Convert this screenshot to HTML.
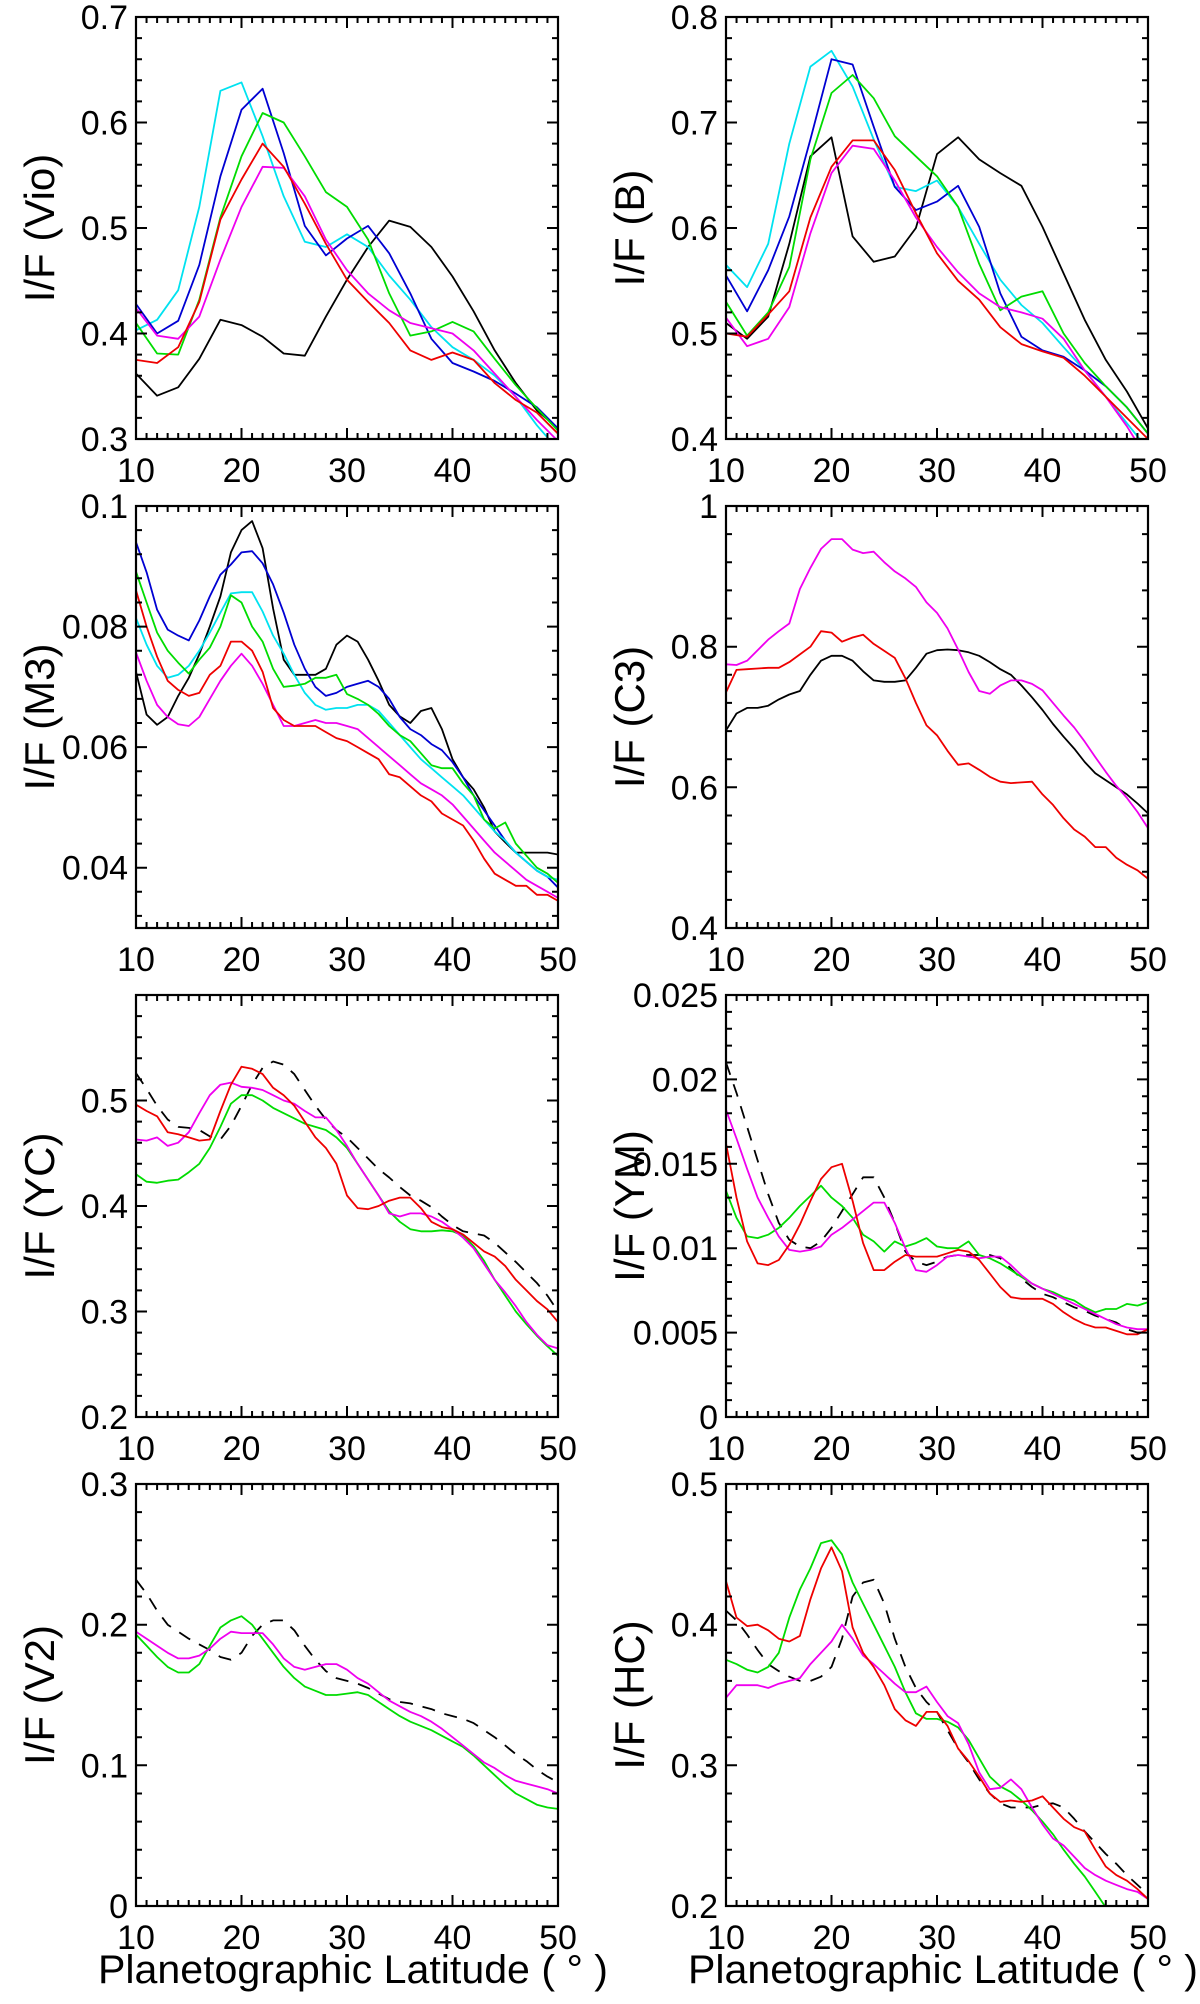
<!DOCTYPE html>
<html><head><meta charset="utf-8"><style>
html,body{margin:0;padding:0;background:#fff;}
svg{display:block;font-family:"Liberation Sans",Arial,sans-serif;}
</style></head>
<body>
<svg id="fig" width="1200" height="2004" viewBox="0 0 1200 2004" xmlns="http://www.w3.org/2000/svg"></svg>
<script>
// ---------- data ----------
const lat2 = [10,12,14,16,18,20,22,24,26,28,30,32,34,36,38,40,42,44,46,48,50];
const lat1 = [10,11,12,13,14,15,16,17,18,19,20,21,22,23,24,25,26,27,28,29,30,31,32,33,34,35,36,37,38,39,40,41,42,43,44,45,46,47,48,49,50];

// Vio
const vioTicks = ["0.3","0.4","0.5","0.6","0.7"];
const vioBlack = [0.362,0.341,0.349,0.376,0.413,0.408,0.397,0.381,0.379,0.416,0.451,0.482,0.507,0.501,0.482,0.454,0.421,0.384,0.353,0.327,0.310];
const vioCyan = [0.403,0.413,0.441,0.52,0.63,0.638,0.587,0.53,0.487,0.482,0.494,0.482,0.455,0.432,0.406,0.387,0.375,0.36,0.34,0.313,0.29];
const vioBlue = [0.428,0.400,0.412,0.465,0.549,0.612,0.632,0.571,0.502,0.474,0.49,0.502,0.476,0.438,0.395,0.372,0.364,0.355,0.343,0.33,0.31];
const vioGreen = [0.41,0.381,0.38,0.432,0.51,0.568,0.609,0.6,0.568,0.534,0.52,0.489,0.438,0.398,0.402,0.411,0.402,0.376,0.351,0.329,0.308];
const vioRed = [0.375,0.372,0.387,0.43,0.508,0.546,0.58,0.558,0.523,0.485,0.451,0.43,0.41,0.384,0.375,0.382,0.375,0.353,0.337,0.325,0.305];
const vioMagenta = [0.424,0.398,0.395,0.416,0.47,0.52,0.558,0.557,0.53,0.489,0.46,0.438,0.422,0.41,0.405,0.4,0.384,0.362,0.34,0.318,0.298];

// B
const bTicks = ["0.4","0.5","0.6","0.7","0.8"];
const bCyan = [0.565,0.544,0.585,0.68,0.753,0.768,0.734,0.684,0.639,0.635,0.645,0.62,0.585,0.551,0.527,0.51,0.487,0.465,0.44,0.415,0.39];
const bBlue = [0.555,0.521,0.56,0.611,0.684,0.76,0.755,0.696,0.639,0.617,0.625,0.64,0.601,0.538,0.497,0.484,0.478,0.465,0.45,0.43,0.405];
const bGreen = [0.53,0.498,0.52,0.563,0.665,0.728,0.745,0.723,0.687,0.668,0.649,0.62,0.566,0.522,0.535,0.54,0.5,0.472,0.45,0.43,0.405];
const bBlack = [0.51,0.495,0.516,0.585,0.668,0.686,0.592,0.568,0.573,0.6,0.67,0.686,0.665,0.652,0.64,0.601,0.557,0.513,0.475,0.445,0.41];
const bRed = [0.5,0.497,0.518,0.54,0.61,0.658,0.683,0.683,0.655,0.614,0.576,0.55,0.532,0.506,0.49,0.483,0.477,0.46,0.44,0.42,0.4];
const bMagenta = [0.515,0.488,0.495,0.525,0.595,0.652,0.678,0.675,0.645,0.61,0.582,0.558,0.538,0.525,0.52,0.514,0.495,0.465,0.44,0.412,0.38];

// M3
const m3Ticks = ["0.04","0.06","0.08","0.1"];
const m3Black = [0.0725,0.0654,0.0637,0.065,0.0685,0.0715,0.0754,0.08,0.085,0.0923,0.096,0.0975,0.093,0.083,0.0745,0.072,0.072,0.072,0.073,0.077,0.0785,0.0775,0.0745,0.071,0.067,0.0651,0.064,0.066,0.0665,0.063,0.058,0.055,0.053,0.05,0.046,0.0442,0.0425,0.0425,0.0425,0.0425,0.0422];
const m3Blue = [0.094,0.089,0.0828,0.0795,0.0785,0.0777,0.081,0.085,0.0886,0.0903,0.0923,0.0925,0.0905,0.087,0.0823,0.077,0.073,0.07,0.0685,0.069,0.07,0.0705,0.071,0.07,0.068,0.065,0.063,0.062,0.0605,0.0595,0.0575,0.055,0.052,0.0495,0.047,0.0445,0.0425,0.041,0.0395,0.0385,0.0367];
const m3Cyan = [0.0814,0.077,0.0735,0.0715,0.072,0.0735,0.076,0.079,0.0823,0.0855,0.0857,0.0857,0.0825,0.0785,0.0755,0.072,0.069,0.067,0.0662,0.0665,0.0665,0.067,0.067,0.066,0.064,0.062,0.06,0.058,0.0565,0.055,0.0535,0.052,0.05,0.048,0.046,0.0445,0.0425,0.041,0.0395,0.0385,0.038];
const m3Green = [0.0891,0.084,0.079,0.076,0.074,0.0722,0.0745,0.0765,0.08,0.0852,0.084,0.08,0.0775,0.073,0.07,0.0702,0.0705,0.0715,0.0715,0.072,0.0688,0.068,0.067,0.0655,0.0635,0.062,0.061,0.059,0.057,0.0565,0.0565,0.054,0.052,0.048,0.0465,0.0475,0.044,0.042,0.04,0.039,0.0375];
const m3Red = [0.086,0.08,0.075,0.071,0.0695,0.0685,0.069,0.072,0.0735,0.0775,0.0775,0.076,0.0725,0.0665,0.0645,0.0635,0.0635,0.0635,0.0625,0.0615,0.061,0.06,0.059,0.058,0.0555,0.055,0.0535,0.052,0.051,0.049,0.048,0.047,0.0445,0.0415,0.039,0.038,0.037,0.037,0.0355,0.0355,0.0345];
const m3Magenta = [0.0757,0.071,0.067,0.065,0.0638,0.0635,0.065,0.068,0.071,0.0735,0.0755,0.0735,0.0705,0.067,0.0635,0.0635,0.064,0.0645,0.064,0.064,0.0635,0.063,0.0615,0.06,0.0585,0.057,0.0555,0.054,0.053,0.052,0.0505,0.0485,0.0465,0.0445,0.0425,0.041,0.0395,0.038,0.037,0.036,0.035];

// C3
const c3Ticks = ["0.4","0.6","0.8","1"];
const c3Magenta = [0.775,0.774,0.78,0.795,0.81,0.822,0.833,0.882,0.912,0.939,0.953,0.953,0.938,0.933,0.935,0.92,0.907,0.897,0.885,0.863,0.848,0.826,0.796,0.764,0.737,0.733,0.745,0.752,0.752,0.747,0.738,0.72,0.702,0.685,0.665,0.643,0.622,0.602,0.585,0.565,0.542];
const c3Red = [0.735,0.767,0.768,0.769,0.77,0.77,0.778,0.789,0.8,0.822,0.82,0.807,0.813,0.817,0.804,0.794,0.784,0.755,0.72,0.688,0.674,0.652,0.632,0.634,0.625,0.615,0.608,0.606,0.607,0.608,0.59,0.575,0.556,0.54,0.53,0.515,0.515,0.5,0.49,0.482,0.47];
const c3Black = [0.681,0.705,0.713,0.713,0.716,0.725,0.732,0.737,0.76,0.78,0.787,0.787,0.78,0.765,0.752,0.75,0.75,0.752,0.77,0.79,0.795,0.796,0.795,0.792,0.787,0.778,0.768,0.76,0.745,0.728,0.71,0.69,0.672,0.655,0.636,0.62,0.61,0.6,0.59,0.577,0.563];

// YC
const ycTicks = ["0.2","0.3","0.4","0.5"];
const ycDash = [0.526,0.511,0.495,0.482,0.475,0.474,0.472,0.466,0.463,0.476,0.495,0.515,0.531,0.537,0.534,0.525,0.51,0.495,0.482,0.472,0.465,0.455,0.445,0.435,0.427,0.418,0.41,0.405,0.399,0.39,0.382,0.376,0.374,0.372,0.365,0.356,0.347,0.337,0.327,0.315,0.3];
const ycRed = [0.496,0.49,0.485,0.47,0.468,0.465,0.462,0.463,0.49,0.515,0.532,0.53,0.525,0.512,0.505,0.495,0.48,0.465,0.455,0.44,0.41,0.398,0.397,0.4,0.405,0.408,0.408,0.398,0.385,0.38,0.378,0.373,0.365,0.357,0.352,0.343,0.33,0.32,0.31,0.302,0.29];
const ycMagenta = [0.463,0.462,0.465,0.457,0.46,0.47,0.488,0.505,0.515,0.517,0.513,0.512,0.51,0.505,0.5,0.497,0.49,0.484,0.484,0.472,0.457,0.44,0.425,0.41,0.393,0.39,0.393,0.393,0.39,0.385,0.378,0.37,0.36,0.345,0.33,0.318,0.305,0.29,0.278,0.268,0.265];
const ycGreen = [0.43,0.423,0.422,0.424,0.425,0.432,0.44,0.455,0.475,0.497,0.505,0.505,0.5,0.493,0.488,0.483,0.478,0.475,0.472,0.465,0.455,0.44,0.425,0.41,0.395,0.385,0.378,0.376,0.376,0.377,0.376,0.372,0.362,0.348,0.33,0.315,0.3,0.288,0.277,0.267,0.258];

// YM
const ymTicks = ["0","0.005","0.01","0.015","0.02","0.025"];
const ymDash = [0.021,0.0192,0.0172,0.0152,0.0132,0.0115,0.0105,0.0101,0.01,0.0104,0.0112,0.0122,0.0132,0.0142,0.0142,0.013,0.0115,0.0098,0.0092,0.009,0.0092,0.0095,0.0096,0.0096,0.0096,0.0096,0.0094,0.0088,0.0082,0.0077,0.0073,0.0071,0.0068,0.0065,0.0063,0.006,0.0058,0.0056,0.0052,0.005,0.005];
const ymRed = [0.0162,0.013,0.0104,0.0091,0.009,0.0093,0.0102,0.0114,0.0128,0.0141,0.0148,0.015,0.0128,0.0103,0.0087,0.0087,0.0092,0.0096,0.0095,0.0095,0.0095,0.0097,0.0099,0.0098,0.0093,0.0085,0.0077,0.0071,0.007,0.007,0.007,0.0067,0.0062,0.0058,0.0055,0.0053,0.0053,0.0051,0.0049,0.0049,0.0052];
const ymGreen = [0.0134,0.0118,0.0107,0.0106,0.0108,0.0112,0.0118,0.0125,0.0131,0.0137,0.013,0.0125,0.0118,0.0108,0.0104,0.0098,0.0104,0.0101,0.0103,0.0106,0.0101,0.01,0.01,0.0104,0.0096,0.0094,0.0091,0.0087,0.0083,0.0079,0.0076,0.0074,0.0071,0.0069,0.0065,0.0062,0.0064,0.0064,0.0067,0.0066,0.0068];
const ymMagenta = [0.0182,0.0165,0.0147,0.013,0.0118,0.0107,0.0099,0.0098,0.0099,0.0101,0.0108,0.0112,0.0117,0.0122,0.0127,0.0127,0.0115,0.01,0.0087,0.0086,0.009,0.0095,0.0096,0.0095,0.0094,0.0095,0.0095,0.009,0.0084,0.0079,0.0076,0.0073,0.007,0.0067,0.0064,0.0061,0.0058,0.0055,0.0053,0.0052,0.0052];

// V2
const v2Ticks = ["0","0.1","0.2","0.3"];
const v2Dash = [0.232,0.222,0.21,0.2,0.195,0.19,0.186,0.182,0.177,0.175,0.18,0.192,0.2,0.203,0.203,0.196,0.185,0.175,0.167,0.162,0.16,0.158,0.155,0.151,0.147,0.145,0.144,0.142,0.14,0.137,0.135,0.133,0.13,0.125,0.12,0.114,0.108,0.103,0.097,0.092,0.088];
const v2Magenta = [0.195,0.19,0.185,0.18,0.176,0.176,0.178,0.183,0.19,0.195,0.194,0.194,0.194,0.186,0.176,0.17,0.168,0.17,0.172,0.172,0.168,0.162,0.158,0.152,0.146,0.142,0.138,0.135,0.131,0.126,0.12,0.114,0.108,0.102,0.098,0.093,0.089,0.087,0.085,0.083,0.08];
const v2Green = [0.193,0.185,0.177,0.17,0.166,0.166,0.172,0.185,0.198,0.203,0.206,0.2,0.19,0.18,0.17,0.162,0.156,0.153,0.15,0.15,0.151,0.152,0.15,0.145,0.14,0.135,0.131,0.128,0.125,0.121,0.117,0.113,0.107,0.1,0.093,0.086,0.08,0.076,0.072,0.07,0.069];

// HC
const hcTicks = ["0.2","0.3","0.4","0.5"];
const hcRed = [0.431,0.405,0.399,0.4,0.396,0.39,0.388,0.392,0.418,0.44,0.455,0.438,0.398,0.38,0.37,0.357,0.34,0.332,0.328,0.338,0.338,0.328,0.312,0.303,0.292,0.28,0.274,0.275,0.274,0.275,0.278,0.27,0.262,0.256,0.253,0.24,0.228,0.222,0.218,0.212,0.205];
const hcGreen = [0.375,0.372,0.368,0.366,0.37,0.38,0.405,0.425,0.44,0.458,0.46,0.45,0.43,0.415,0.4,0.385,0.37,0.352,0.337,0.333,0.333,0.331,0.327,0.318,0.305,0.292,0.285,0.281,0.275,0.268,0.26,0.251,0.24,0.23,0.221,0.21,0.199,0.188,0.177,0.167,0.157];
const hcMagenta = [0.348,0.357,0.357,0.357,0.355,0.358,0.36,0.362,0.372,0.38,0.388,0.4,0.39,0.378,0.372,0.365,0.358,0.352,0.352,0.356,0.345,0.335,0.33,0.315,0.295,0.283,0.284,0.29,0.283,0.27,0.258,0.248,0.243,0.235,0.227,0.222,0.218,0.215,0.212,0.21,0.205];
const hcDash = [0.41,0.403,0.393,0.382,0.372,0.367,0.363,0.36,0.36,0.363,0.37,0.39,0.42,0.43,0.432,0.415,0.39,0.37,0.355,0.345,0.338,0.325,0.312,0.302,0.29,0.28,0.273,0.27,0.27,0.27,0.272,0.273,0.27,0.262,0.253,0.245,0.237,0.23,0.222,0.215,0.208];

const xTickLabels = ["10","20","30","40","50"];

// ---------- rendering ----------
const NS = "http://www.w3.org/2000/svg";
const svg = document.getElementById("fig");
const COL = {black:"#000000",cyan:"#00e2f0",blue:"#0000d2",green:"#00dc00",red:"#ee0000",magenta:"#ef00ef"};
const BOX_W = 422, BOX_H = 422;
const LEFT_X = 136, RIGHT_X = 726;
const ROW_Y = [17, 506, 995, 1484];

function mk(tag, attrs, parent) {
  const e = document.createElementNS(NS, tag);
  for (const k in attrs) e.setAttribute(k, attrs[k]);
  (parent || svg).appendChild(e);
  return e;
}

const panels = [
  {id:"vio", label:"I/F (Vio)", x:LEFT_X, y:ROW_Y[0], ymin:0.3, ymax:0.7, minor:0.02, ticks:vioTicks, lat:lat2,
   series:[["black",vioBlack],["cyan",vioCyan],["blue",vioBlue],["green",vioGreen],["magenta",vioMagenta],["red",vioRed]]},
  {id:"b", label:"I/F (B)", x:RIGHT_X, y:ROW_Y[0], ymin:0.4, ymax:0.8, minor:0.02, ticks:bTicks, lat:lat2,
   series:[["black",bBlack],["cyan",bCyan],["blue",bBlue],["green",bGreen],["magenta",bMagenta],["red",bRed]]},
  {id:"m3", label:"I/F (M3)", x:LEFT_X, y:ROW_Y[1], ymin:0.03, ymax:0.1, minor:0.004, ticks:m3Ticks, lat:lat1,
   series:[["black",m3Black],["blue",m3Blue],["cyan",m3Cyan],["green",m3Green],["magenta",m3Magenta],["red",m3Red]]},
  {id:"c3", label:"I/F (C3)", x:RIGHT_X, y:ROW_Y[1], ymin:0.4, ymax:1.0, minor:0.04, ticks:c3Ticks, lat:lat1,
   series:[["black",c3Black],["magenta",c3Magenta],["red",c3Red]]},
  {id:"yc", label:"I/F (YC)", x:LEFT_X, y:ROW_Y[2], ymin:0.2, ymax:0.6, minor:0.02, ticks:ycTicks, lat:lat1,
   series:[["dash",ycDash],["green",ycGreen],["magenta",ycMagenta],["red",ycRed]]},
  {id:"ym", label:"I/F (YM)", x:RIGHT_X, y:ROW_Y[2], ymin:0, ymax:0.025, minor:0.001, ticks:ymTicks, lat:lat1,
   series:[["dash",ymDash],["green",ymGreen],["magenta",ymMagenta],["red",ymRed]]},
  {id:"v2", label:"I/F (V2)", x:LEFT_X, y:ROW_Y[3], ymin:0, ymax:0.3, minor:0.02, ticks:v2Ticks, lat:lat1,
   series:[["dash",v2Dash],["green",v2Green],["magenta",v2Magenta]]},
  {id:"hc", label:"I/F (HC)", x:RIGHT_X, y:ROW_Y[3], ymin:0.2, ymax:0.5, minor:0.02, ticks:hcTicks, lat:lat1,
   series:[["dash",hcDash],["green",hcGreen],["magenta",hcMagenta],["red",hcRed]]}
];

panels.forEach(function(p, pi) {
  const g = mk("g", {});
  
  
  const xs = function(v){ return p.x + (v - 10) / 40 * BOX_W; };
  const ys = function(v){ return p.y + BOX_H - (v - p.ymin) / (p.ymax - p.ymin) * BOX_H; };

  // clip
  const cp = mk("clipPath", {id:"clip-" + p.id}, g);
  mk("rect", {x:p.x, y:p.y, width:BOX_W, height:BOX_H}, cp);

  // series
  const sg = mk("g", {"clip-path":"url(#clip-" + p.id + ")"}, g);
  p.series.forEach(function(s) {
    const key = s[0], vals = s[1];
    let d = "";
    vals.forEach(function(v, i){ d += (i ? "L" : "M") + xs(p.lat[i]).toFixed(1) + "," + ys(v).toFixed(1); });
    const path = mk("path", {d:d, fill:"none", stroke: key === "dash" ? "#000" : COL[key], "stroke-width":1.8, "stroke-linejoin":"round"}, sg);
    if (key === "dash") path.setAttribute("stroke-dasharray", "13 10");
    
    
  });

  // frame
  const frame = mk("rect", {x:p.x, y:p.y, width:BOX_W, height:BOX_H, fill:"none", stroke:"#000", "stroke-width":2.2}, g);
  
  

  // x ticks
  let td = "";
  for (let v = 10; v <= 50; v++) {
    const len = (v % 10 === 0) ? 11 : 6;
    const X = xs(v);
    td += "M" + X + "," + (p.y + BOX_H) + "v" + (-len) + "M" + X + "," + p.y + "v" + len;
  }
  // y ticks
  const nMinor = Math.round((p.ymax - p.ymin) / p.minor);
  const majors = p.ticks.map(parseFloat);
  // minor ticks aligned to majors
  const base = majors[0];
  for (let k = -50; k <= 200; k++) {
    const v = base + k * p.minor;
    if (v < p.ymin - 1e-9 || v > p.ymax + 1e-9) continue;
    const isMajor = majors.some(function(m){ return Math.abs(m - v) < p.minor / 10; });
    const len = isMajor ? 11 : 6;
    const Y = ys(v).toFixed(1);
    td += "M" + p.x + "," + Y + "h" + len + "M" + (p.x + BOX_W) + "," + Y + "h" + (-len);
  }
  const ticks = mk("path", {d:td, stroke:"#000", "stroke-width":2, fill:"none"}, g);
  
  

  // y tick labels
  p.ticks.forEach(function(t) {
    const tx = mk("text", {x:p.x - 8, y:(ys(parseFloat(t)) + 12).toFixed(1), "text-anchor":"end", "font-size":34, fill:"#000"}, g);
    tx.textContent = t;
    
    
  });
  // x tick labels
  xTickLabels.forEach(function(t) {
    const tx = mk("text", {x:xs(parseFloat(t)).toFixed(1), y:p.y + BOX_H + 43, "text-anchor":"middle", "font-size":34, fill:"#000"}, g);
    tx.textContent = t;
    
    
  });
  // y axis title
  const cx = p.x - 97, cy = p.y + BOX_H / 2;
  const yt = mk("text", {x:cx, y:cy + 15, "text-anchor":"middle", "font-size":42, fill:"#000", transform:"rotate(-90 " + cx + " " + cy + ")"}, g);
  yt.textContent = p.label;
  
  

  // x axis title on bottom row
  if (pi >= 6) {
    const xt = mk("text", {x:p.x + BOX_W / 2 + 6, y:1983, "text-anchor":"middle", "font-size":40, fill:"#000", textLength:510, lengthAdjust:"spacingAndGlyphs"}, g);
    xt.textContent = "Planetographic Latitude ( ° )";
    
    
  }
});
</script>
</body></html>
